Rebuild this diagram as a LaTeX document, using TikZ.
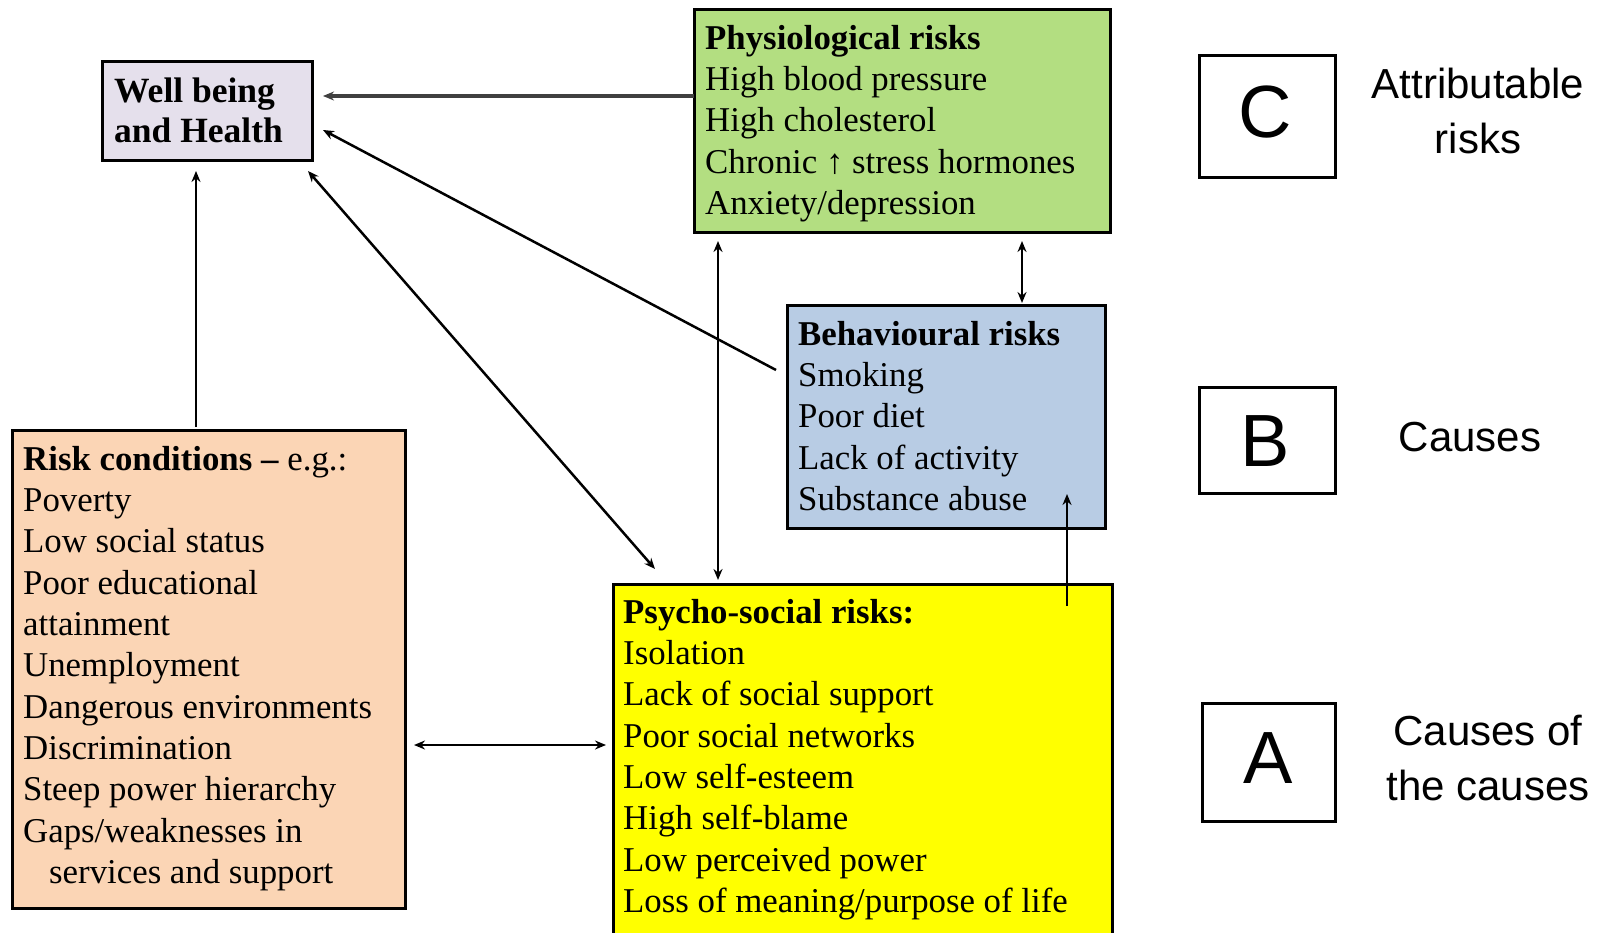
\documentclass[tikz,border=0pt]{standalone}
\usepackage{fontspec}
\setmainfont{Liberation Serif}
\newfontfamily\arialf{Liberation Sans}
\usetikzlibrary{arrows.meta,calc}
\definecolor{wbcol}{RGB}{229,224,236}
\definecolor{physcol}{RGB}{179,222,129}
\definecolor{behcol}{RGB}{184,204,228}
\definecolor{riskcol}{RGB}{251,213,181}
\definecolor{psycol}{RGB}{255,255,0}
\begin{document}
\begin{tikzpicture}[x=1pt,y=-1pt,
  box/.style={draw=black,line width=3pt,anchor=north west,inner sep=0pt,outer sep=0pt},
  txt/.style={anchor=north west,inner sep=0pt,align=left,font=\fontsize{34.8}{41.3}\selectfont},
  arr/.style={line width=2.5pt,-{Stealth[length=11pt,width=9pt]}},
  darr/.style={line width=2.5pt,{Stealth[length=11pt,width=9pt]}-{Stealth[length=11pt,width=9pt]}},
  letterbox/.style={draw=black,line width=3pt,anchor=north west,inner sep=0pt,outer sep=0pt},
  letter/.style={font=\arialf\fontsize{74}{80}\selectfont,inner sep=0pt},
  lab/.style={font=\arialf\fontsize{42}{55}\selectfont,align=center,inner sep=0pt}]
\useasboundingbox (0,0) rectangle (1602,933);
\clip (0,0) rectangle (1602,933);
\fill[white] (0,0) rectangle (1602,933);

% boxes
\node[box,fill=wbcol,minimum width=210pt,minimum height=99pt] (wb) at (102,62) {};
\node[box,fill=physcol,minimum width=416pt,minimum height=223pt] (phys) at (694,10) {};
\node[box,fill=behcol,minimum width=318pt,minimum height=223pt] (beh) at (787,305) {};
\node[box,fill=riskcol,minimum width=393pt,minimum height=478pt] (risk) at (12,430) {};
\node[box,fill=psycol,minimum width=499pt,minimum height=380pt] (psy) at (613,584) {};

% texts
\node[txt,font=\bfseries\fontsize{35.5}{40}\selectfont] (wbT) at (114,78) {Well being\\and Health};
\node[txt] (physT) at (705,25) {\textbf{Physiological risks}\\High blood pressure\\High cholesterol\\Chronic ↑ stress hormones\\Anxiety/depression};
\node[txt] (behT) at (798,321) {\textbf{Behavioural risks}\\Smoking\\Poor diet\\Lack of activity\\Substance abuse};
\node[txt] (riskT) at (23,446) {\textbf{Risk conditions –} e.g.:\\Poverty\\Low social status\\Poor educational\\attainment\\Unemployment\\Dangerous environments\\Discrimination\\Steep power hierarchy\\Gaps/weaknesses in\\\hspace*{26pt}services and support};
\node[txt] (psyT) at (623,599) {\textbf{Psycho-social risks:}\\Isolation\\Lack of social support\\Poor social networks\\Low self-esteem\\High self-blame\\Low perceived power\\Loss of meaning/purpose of life};

% letter boxes
\node[letterbox,minimum width=136pt,minimum height=122pt] (cbox) at (1199,56) {};
\node[letterbox,minimum width=136pt,minimum height=106pt] (bbox) at (1199,387) {};
\node[letterbox,minimum width=133pt,minimum height=118pt] (abox) at (1202,703) {};
\node[letter] (cL) at (1265,112) {C};
\node[letter] (bL) at (1265,441) {B};
\node[letter] (aL) at (1268,758) {A};
\node[lab] (cT) at (1478,111) {Attributable\\risks};
\node[lab] (bT) at (1470,437) {Causes};
\node[lab] (aT) at (1488,758) {Causes of\\the causes};

% connectors
\draw[arr,line width=3.5pt,black!75] ($(phys.north west)+(0,86)$) -- ($(wb.north east)+(11,34)$);
\draw[arr] ($(beh.north west)+(-11,65)$) -- ($(wb.north east)+(11,68)$);
\draw[darr] ($(psy.north west)+(42,-15)$) -- ($(wb.south east)+(-4,10)$);
\draw[arr] ($(risk.north west)+(184,-3)$) -- ($(wb.south west)+(94,10)$);
\draw[darr] ($(risk.north east)+(9,315)$) -- ($(psy.north west)+(-7,161)$);
\draw[darr] ($(phys.south west)+(24,8)$) -- ($(psy.north west)+(105,-4)$);
\draw[darr] ($(phys.south west)+(328,8)$) -- ($(beh.north west)+(235,-2)$);
\draw[arr] ($(psy.north west)+(454,22)$) -- ($(beh.north west)+(280,189)$);
\end{tikzpicture}
\end{document}
